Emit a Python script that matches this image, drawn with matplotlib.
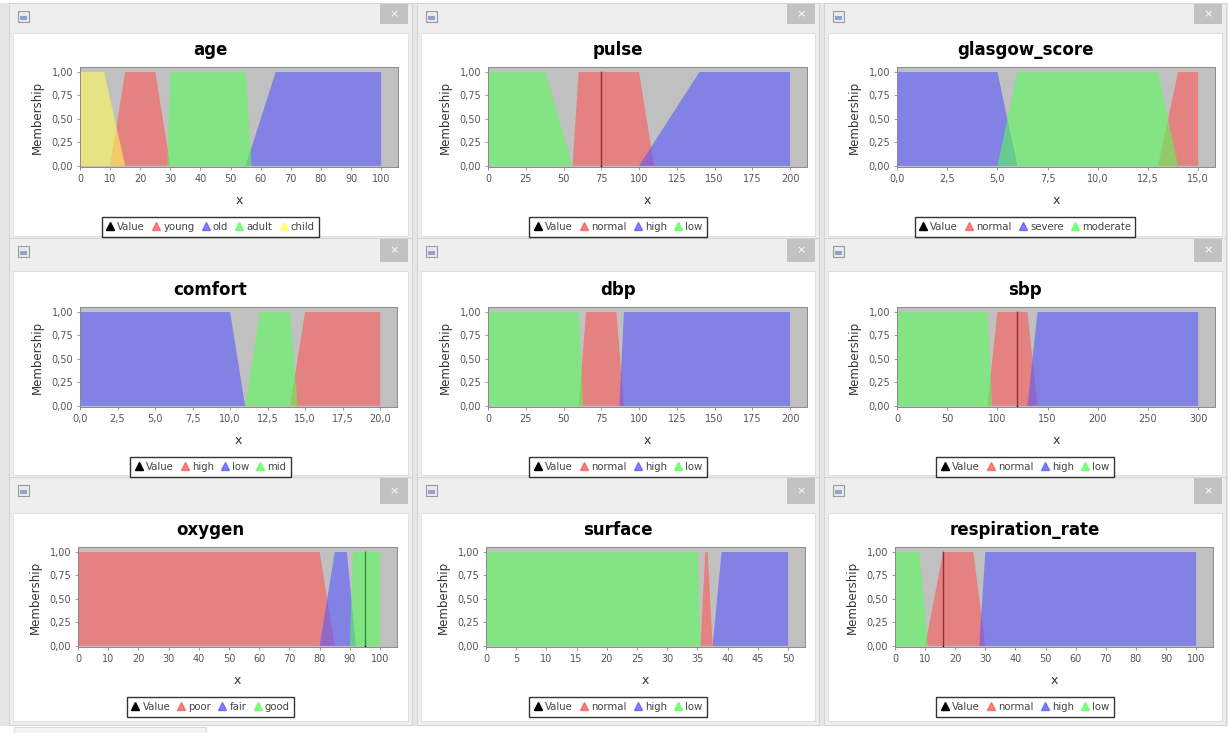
import matplotlib
matplotlib.use("Agg")
import matplotlib.pyplot as plt
from matplotlib.patches import Rectangle
from matplotlib.lines import Line2D

W, H = 1228, 733

# membership functions: [a, b, c, d] trapezoids
age_terms = ["young", "old", "adult", "child"]
age_shapes = [[10, 15, 25, 30], [55, 65, 100, 100], [29, 30, 55, 57], [0, 0, 8, 15]]
age_ticks = [0, 10, 20, 30, 40, 50, 60, 70, 80, 90, 100]

pulse_terms = ["normal", "high", "low"]
pulse_shapes = [[56, 60, 100, 110], [100, 140, 200, 200], [0, 0, 38, 56]]
pulse_ticks = [0, 25, 50, 75, 100, 125, 150, 175, 200]
pulse_value = 75

glasgow_terms = ["normal", "severe", "moderate"]
glasgow_shapes = [[13, 14, 15, 15], [0, 0, 5, 6], [5, 6, 13, 14]]
glasgow_ticks = [0.0, 2.5, 5.0, 7.5, 10.0, 12.5, 15.0]

comfort_terms = ["high", "low", "mid"]
comfort_shapes = [[14, 15, 20, 20], [0, 0, 10, 11], [11, 12, 14, 14.5]]
comfort_ticks = [0.0, 2.5, 5.0, 7.5, 10.0, 12.5, 15.0, 17.5, 20.0]

dbp_terms = ["normal", "high", "low"]
dbp_shapes = [[60, 65, 85, 90], [87, 90, 200, 200], [0, 0, 60, 63]]
dbp_ticks = [0, 25, 50, 75, 100, 125, 150, 175, 200]

sbp_terms = ["normal", "high", "low"]
sbp_shapes = [[90, 100, 130, 140], [130, 140, 300, 300], [0, 0, 90, 95]]
sbp_ticks = [0, 50, 100, 150, 200, 250, 300]
sbp_value = 120

oxygen_terms = ["poor", "fair", "good"]
oxygen_shapes = [[0, 0, 80, 85], [80, 85, 89, 92], [90, 91, 100, 100]]
oxygen_ticks = [0, 10, 20, 30, 40, 50, 60, 70, 80, 90, 100]
oxygen_value = 95

surface_terms = ["normal", "high", "low"]
surface_shapes = [[35.5, 36.3, 36.7, 37.5], [37.5, 39, 50, 50], [0, 0, 35, 35.5]]
surface_ticks = [0, 5, 10, 15, 20, 25, 30, 35, 40, 45, 50]

resp_terms = ["normal", "high", "low"]
resp_shapes = [[10, 16, 26, 30], [28, 30, 100, 100], [0, 0, 8, 11]]
resp_ticks = [0, 10, 20, 30, 40, 50, 60, 70, 80, 90, 100]
resp_value = 16

panels = [
    ("age", age_terms, age_shapes, age_ticks, 0, None),
    ("pulse", pulse_terms, pulse_shapes, pulse_ticks, 0, pulse_value),
    ("glasgow_score", glasgow_terms, glasgow_shapes, glasgow_ticks, 1, None),
    ("comfort", comfort_terms, comfort_shapes, comfort_ticks, 1, None),
    ("dbp", dbp_terms, dbp_shapes, dbp_ticks, 0, None),
    ("sbp", sbp_terms, sbp_shapes, sbp_ticks, 0, sbp_value),
    ("oxygen", oxygen_terms, oxygen_shapes, oxygen_ticks, 0, oxygen_value),
    ("surface", surface_terms, surface_shapes, surface_ticks, 0, None),
    ("respiration_rate", resp_terms, resp_shapes, resp_ticks, 0, resp_value),
]

# JFreeChart default series paints
series_colors = ["#FF5555", "#5555FF", "#55FF55", "#FFFF55"]
ALPHA = 0.58

# window geometry in pixels
col_content = [(13, 408), (421, 815), (828, 1222)]
row_bar = [(3, 33), (238, 271), (477, 513)]
row_content = [(33, 236), (271, 475), (513, 721)]
plot_x = [[(80, 398), (488, 807), (897, 1215)],
          [(80, 397), (488, 807), (897, 1215)],
          [(78, 397), (486, 805), (895, 1213)]]
plot_y = [(67, 167), (307, 407), (547, 647)]

fig = plt.figure(figsize=(W / 100, H / 100), dpi=100)
fig.patch.set_facecolor("#e6e6e6")

bg = fig.add_axes([0, 0, 1, 1])
bg.set_xlim(0, W)
bg.set_ylim(H, 0)
bg.axis("off")
bg.add_patch(Rectangle((0, 0), W, 3, color="white", lw=0))
bg.add_patch(Rectangle((0, 726), W, 7, color="white", lw=0))
bg.add_patch(Rectangle((14, 727), 192, 6, facecolor="#f4f4f4", edgecolor="#dcdcdc", lw=0.8))

for r in range(3):
    for c in range(3):
        x0, x1 = col_content[c]
        bg.add_patch(Rectangle((x0 - 4, row_bar[r][0]), x1 - x0 + 8,
                               row_content[r][1] - row_bar[r][0] + 4,
                               facecolor="#eeeeee", edgecolor="#d4d4d4", lw=0.8))
        bg.add_patch(Rectangle((x0, row_content[r][0]), x1 - x0,
                               row_content[r][1] - row_content[r][0],
                               facecolor="white", edgecolor="#dadada", lw=0.6))
        # close button
        by0, by1 = row_bar[r]
        bg.add_patch(Rectangle((x1 - 28, by0 + 1), 28, by1 - by0 - 10,
                               facecolor="#c2c2c2", lw=0))
        bg.text(x1 - 14, by0 + 1 + (by1 - by0 - 10) / 2, "\u00d7", color="white",
                fontsize=8, ha="center", va="center")
        # window icon
        bg.add_patch(Rectangle((x0 + 5, by0 + 8), 11, 11,
                               facecolor="#e8eaf0", edgecolor="#9a9a9a", lw=0.8))
        bg.add_patch(Rectangle((x0 + 7, by0 + 13), 7, 4,
                               facecolor="#8fa4c8", lw=0))

for i, (name, terms, shapes, ticks, dec, value) in enumerate(panels):
    r, c = divmod(i, 3)
    px0, px1 = plot_x[r][c]
    py0, py1 = plot_y[r]
    ax = fig.add_axes([px0 / W, 1 - py1 / H, (px1 - px0) / W, (py1 - py0) / H])
    ax.set_facecolor("#c0c0c0")

    if value is not None:
        ax.plot([value, value], [0, 1], color="black", lw=1, zorder=1.5)
    for k, shp in enumerate(shapes):
        ax.fill(shp, [0, 1, 1, 0], color=series_colors[k], alpha=ALPHA, lw=0, zorder=2)

    ax.set_xlim(0, ticks[-1] * 1.056)
    ax.set_ylim(-0.012, 1.053)
    ax.set_xticks(ticks)
    ax.set_xticklabels([f"{t:.{dec}f}".replace(".", ",") for t in ticks])
    ax.set_yticks([0, 0.25, 0.5, 0.75, 1.0])
    ax.set_yticklabels(["0,00", "0,25", "0,50", "0,75", "1,00"])
    ax.tick_params(direction="out", length=2, width=0.6, color="#888888",
                   labelsize=7, labelcolor="#555555", pad=3)
    for sp in ax.spines.values():
        sp.set_color("#8a8a8a")
        sp.set_linewidth(0.7)

    cx = sum(col_content[c]) / 2
    fig.text(cx / W, 1 - (py0 - 17) / H, name, fontsize=12, fontweight="bold",
             ha="center", va="center")
    fig.text((px0 - 43) / W, 1 - ((py0 + py1) / 2) / H, "Membership", fontsize=8.5,
             rotation=90, ha="center", va="center", color="#333333")
    fig.text(((px0 + px1) / 2) / W, 1 - (py1 + 34) / H, "x", fontsize=9,
             ha="center", va="center", color="#333333")

    handles = [Line2D([], [], marker="^", ls="none", color="black", markersize=5.5)]
    for k in range(len(terms)):
        handles.append(Line2D([], [], marker="^", ls="none", markersize=5.5,
                              color=series_colors[k], alpha=0.75))
    leg = fig.legend(handles, ["Value"] + terms, loc="center",
                     bbox_to_anchor=(cx / W, 1 - (py1 + 60) / H), ncol=len(handles),
                     frameon=True, fancybox=False, fontsize=7.3, handlelength=0.8,
                     handletextpad=0.3, columnspacing=0.7, borderpad=0.45,
                     borderaxespad=0)
    leg.get_frame().set_edgecolor("black")
    leg.get_frame().set_linewidth(1)
    for t in leg.get_texts():
        t.set_color("#444444")

fig.savefig("out.png", dpi=100)
